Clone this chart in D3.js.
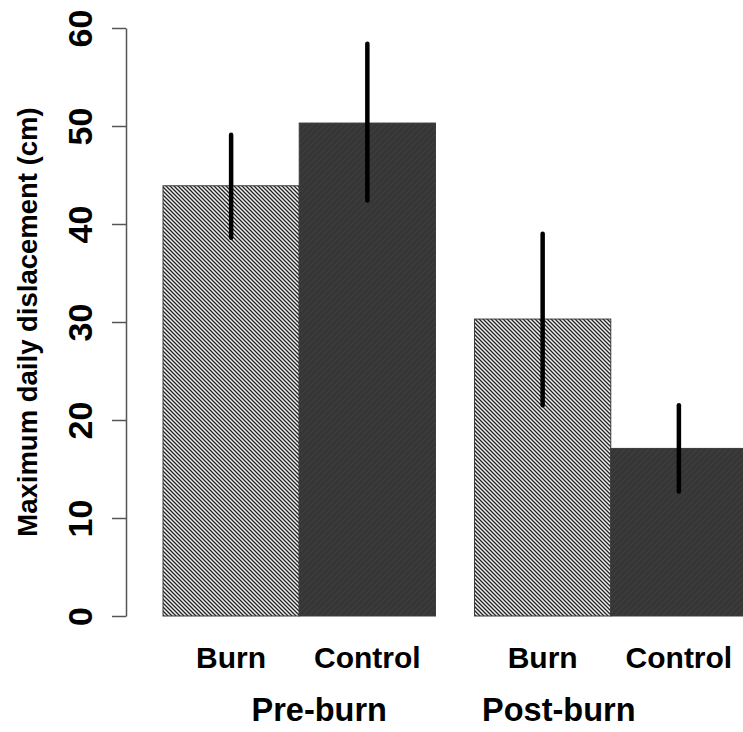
<!DOCTYPE html>
<html>
<head>
<meta charset="utf-8">
<script src="https://cdn.jsdelivr.net/npm/d3@7"></script>
<style>
  html, body { margin: 0; padding: 0; background: #fff; }
  svg { display: block; font-family: "Liberation Sans", Arial, Helvetica, sans-serif; }
</style>
</head>
<body>
<div id="chart"></div>
<script>
// ---- data ----
const groups = ["Pre-burn", "Post-burn"];
const treatments = ["Burn", "Control"];
const means = [[43.9, 50.3], [30.3, 17.1]];
const lower = [[38.6, 42.4], [21.5, 12.7]];
const upper = [[49.1, 58.4], [39.0, 21.5]];
const yTicks = [0, 10, 20, 30, 40, 50, 60];
const yLabel = "Maximum daily dislacement (cm)";

// ---- layout ----
const W = 743, H = 732;
const plot = { left: 163, right: 747, top: 28, bottom: 616 };
const axisX = 126;
const groupLabelShift = [20, -52];

const svg = d3.select("#chart").append("svg").attr("width", W).attr("height", H);

const defs = svg.append("defs");
const pBurn = defs.append("pattern").attr("id", "burnPat")
  .attr("patternUnits", "userSpaceOnUse").attr("width", 4).attr("height", 4);
pBurn.append("rect").attr("width", 4).attr("height", 4).attr("fill", "#f2f2f2");
pBurn.append("path").attr("d", "M-1,-1L5,5M-1,3L1,5M3,-1L5,1")
  .attr("stroke", "#222").attr("stroke-width", 1.3);

const pCtrl = defs.append("pattern").attr("id", "ctrlPat")
  .attr("patternUnits", "userSpaceOnUse").attr("width", 6).attr("height", 6);
pCtrl.append("rect").attr("width", 6).attr("height", 6).attr("fill", "#363636");
pCtrl.append("path").attr("d", "M-1,7L7,-1M-1,1L1,-1M5,7L7,5")
  .attr("stroke", "#414141").attr("stroke-width", 1);

const clip = defs.append("clipPath").attr("id", "clipW");
clip.append("rect").attr("x", 0).attr("y", 0).attr("width", W).attr("height", H);

const y = d3.scaleLinear().domain([0, 60]).range([plot.bottom, plot.top]);
const xGroup = d3.scaleBand().domain(groups).range([plot.left, plot.right])
  .paddingInner(0.1254).paddingOuter(0);
const xTreat = d3.scaleBand().domain(treatments).range([0, xGroup.bandwidth()]).padding(0);

const fills = { Burn: "url(#burnPat)", Control: "url(#ctrlPat)" };

const data = [];
groups.forEach((g, gi) => treatments.forEach((t, ti) => {
  data.push({ g, t, v: means[gi][ti], lo: lower[gi][ti], hi: upper[gi][ti] });
}));

const chartG = svg.append("g").attr("clip-path", "url(#clipW)");

chartG.selectAll("rect.bar").data(data).enter().append("rect")
  .attr("class", "bar")
  .attr("x", d => xGroup(d.g) + xTreat(d.t))
  .attr("y", d => y(d.v))
  .attr("width", xTreat.bandwidth())
  .attr("height", d => y(0) - y(d.v))
  .attr("fill", d => fills[d.t])
  .attr("stroke", "#3a3a3a")
  .attr("stroke-width", 1);

chartG.selectAll("line.err").data(data).enter().append("line")
  .attr("class", "err")
  .attr("x1", d => xGroup(d.g) + xTreat(d.t) + xTreat.bandwidth() / 2)
  .attr("x2", d => xGroup(d.g) + xTreat(d.t) + xTreat.bandwidth() / 2)
  .attr("y1", d => y(d.lo))
  .attr("y2", d => y(d.hi))
  .attr("stroke", "#000")
  .attr("stroke-width", 4.5)
  .attr("stroke-linecap", "round");

// y axis
const axis = d3.axisLeft(y).tickValues(yTicks).tickSize(14).tickSizeOuter(0).tickPadding(0);
const ag = svg.append("g").attr("transform", `translate(${axisX},0)`).call(axis);
ag.select(".domain").attr("stroke", "#555").attr("stroke-width", 1.5);
ag.selectAll(".tick line").attr("stroke", "#555").attr("stroke-width", 1.5);
ag.selectAll(".tick text")
  .attr("transform", "rotate(-90)")
  .attr("x", 0).attr("y", -34).attr("dy", 0)
  .attr("text-anchor", "middle")
  .attr("font-size", 34).attr("font-weight", "bold")
  .attr("font-family", "Liberation Sans, Arial, sans-serif")
  .attr("fill", "#000");

// y label
svg.append("text")
  .attr("transform", `translate(37,${(plot.top + plot.bottom) / 2}) rotate(-90)`)
  .attr("text-anchor", "middle")
  .attr("font-size", 27.5).attr("font-weight", "bold")
  .attr("fill", "#000")
  .text(yLabel);

// category labels
svg.selectAll("text.cat").data(data).enter().append("text")
  .attr("class", "cat")
  .attr("x", d => xGroup(d.g) + xTreat(d.t) + xTreat.bandwidth() / 2)
  .attr("y", 668)
  .attr("text-anchor", "middle")
  .attr("font-size", 30).attr("font-weight", "bold")
  .attr("fill", "#000")
  .text(d => d.t);

// group labels
svg.selectAll("text.grp").data(groups).enter().append("text")
  .attr("class", "grp")
  .attr("x", (d, i) => xGroup(d) + xGroup.bandwidth() / 2 + groupLabelShift[i])
  .attr("y", 721)
  .attr("text-anchor", "middle")
  .attr("font-size", 32.5).attr("font-weight", "bold")
  .attr("fill", "#000")
  .text(d => d);
</script>
</body>
</html>
